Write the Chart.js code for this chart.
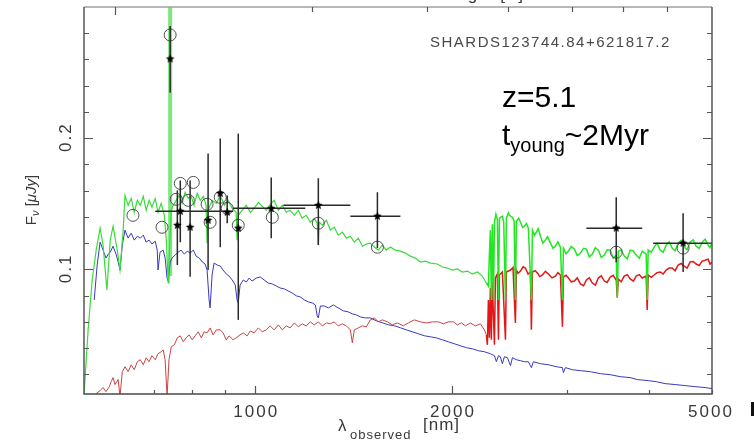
<!DOCTYPE html>
<html>
<head>
<meta charset="utf-8">
<script src="https://cdn.jsdelivr.net/npm/chart.js@4.4.1/dist/chart.umd.min.js"></script>
<style>
  html, body { margin: 0; padding: 0; background: #fff; }
  #wrap { width: 754px; height: 442px; }
</style>
</head>
<body>
<div id="wrap"><canvas id="sed" width="754" height="442"></canvas></div>
<script>
// ---- SED of SHARDS123744.84+621817.2 : wavelength [nm], flux [uJy] ----

// Total model (young + old populations)
const totalSpectrum = [
  [547,0.004],[555,0.0539],[563,0.0919],[571,0.1147],[579,0.1314],[585,0.1185],[593,0.0843],[600,0.1223],
  [606,0.1329],[615,0.1147],[621,0.0995],[628,0.1299],[632,0.1564],[639,0.1488],[646,0.1541],[653,0.1435],
  [660,0.1526],[667,0.1488],[674,0.1557],[681,0.1450],[688,0.1526],[695,0.1473],[703,0.1541],[710,0.1435],
  [718,0.1503],[726,0.1412],[731,0.1223],[736,0.0896],[738,0.1071],[744,0.1450],[749,0.1488],[757,0.1526],
  [765,0.1564],[773,0.1503],[781,0.1587],[790,0.1541],[798,0.1557],[806,0.1488],[815,0.1579],[824,0.1526],
  [833,0.1557],[841,0.1488],[844,0.1200],[847,0.1450],[859,0.1526],[872,0.1503],[884,0.1564],[897,0.1488],
  [909,0.1526],[922,0.1465],[935,0.1435],[938,0.1223],[942,0.1412],[955,0.1450],[969,0.1488],[983,0.1435],
  [996,0.1465],[1011,0.1511],[1025,0.1481],[1040,0.1450],[1054,0.1496],[1069,0.1526],[1085,0.1450],[1100,0.1488],
  [1116,0.1435],[1131,0.1450],[1148,0.1412],[1164,0.1450],[1180,0.1390],[1197,0.1412],[1214,0.1359],[1231,0.1390],
  [1244,0.1352],[1249,0.1185],[1253,0.1359],[1267,0.1337],[1285,0.1375],[1303,0.1299],[1321,0.1321],[1340,0.1261],
  [1359,0.1284],[1379,0.1238],[1398,0.1253],[1418,0.1208],[1438,0.1238],[1459,0.1177],[1479,0.1193],[1500,0.1200],
  [1522,0.1170],[1543,0.1147],[1565,0.1185],[1587,0.1147],[1610,0.1170],[1638,0.1147],[1668,0.1139],[1697,0.1124],
  [1727,0.1101],[1758,0.1086],[1789,0.1056],[1821,0.1063],[1854,0.1048],[1900,0.1041],[1934,0.1018],[1968,0.1010],
  [2003,0.0995],[2039,0.1003],[2075,0.0980],[2112,0.0987],[2149,0.0965],[2188,0.0980],[2226,0.0949],[2258,0.0896],
  [2274,0.0873],[2282,0.1109],[2290,0.1299],[2298,0.0767],[2306,0.1344],[2315,0.0767],[2323,0.1359],[2335,0.1420],
  [2347,0.1382],[2356,0.0767],[2364,0.1390],[2389,0.1405],[2400,0.1360],[2415,0.0767],[2423,0.1390],[2440,0.1430],
  [2449,0.1412],[2475,0.1397],[2490,0.1370],[2501,0.0767],[2510,0.1367],[2530,0.1390],[2546,0.1359],[2565,0.1320],
  [2582,0.1329],[2600,0.1350],[2618,0.1314],[2646,0.0767],[2656,0.1299],[2675,0.1260],[2693,0.1284],[2710,0.1310],
  [2732,0.1253],[2755,0.1200],[2780,0.1223],[2800,0.1250],[2830,0.1200],[2855,0.1160],[2880,0.1177],[2905,0.1210],
  [2931,0.1170],[2952,0.0767],[2962,0.1162],[2990,0.1120],[3015,0.1139],[3045,0.1175],[3079,0.1154],[3110,0.1105],
  [3145,0.1124],[3180,0.1160],[3212,0.1154],[3245,0.1095],[3280,0.1116],[3315,0.1165],[3350,0.1147],[3385,0.1090],
  [3421,0.1109],[3455,0.1150],[3494,0.1147],[3530,0.1085],[3568,0.1109],[3581,0.0782],[3594,0.1139],[3630,0.1150],
  [3670,0.1101],[3710,0.1080],[3748,0.1147],[3790,0.1140],[3828,0.1109],[3870,0.1085],[3910,0.1139],[3965,0.1116],
  [3979,0.0767],[3993,0.1147],[4035,0.1130],[4078,0.1170],[4120,0.1200],[4166,0.1147],[4210,0.1130],[4255,0.1185],
  [4300,0.1210],[4345,0.1162],[4390,0.1140],[4438,0.1200],[4485,0.1220],[4532,0.1170],[4580,0.1150],[4629,0.1208],
  [4680,0.1225],[4728,0.1177],[4780,0.1160],[4829,0.1208],[4880,0.1230],[4932,0.1185],[4965,0.1165],[5002,0.1208]
];

// Old stellar population
const oldSpectrum = [
  [563,0.002],[571,0.0053],[579,0.0076],[585,0.0099],[591,0.0068],[598,0.0106],[602,0.0144],[606,0.0175],
  [610,0.0122],[617,0.0160],[621,0.003],[626,0.0220],[632,0.0258],[639,0.0220],[646,0.0273],[653,0.0235],
  [660,0.0296],[667,0.0311],[674,0.0273],[681,0.0326],[688,0.0296],[695,0.0342],[703,0.0311],[710,0.0357],
  [718,0.0372],[723,0.0387],[728,0.0311],[733,0.003],[738,0.0311],[744,0.0410],[752,0.0425],[760,0.0478],
  [768,0.0493],[776,0.0448],[784,0.0478],[792,0.0501],[801,0.0463],[809,0.0493],[818,0.0524],[827,0.0478],
  [835,0.0524],[844,0.0516],[853,0.0554],[862,0.0501],[872,0.0539],[884,0.0539],[893,0.0516],[903,0.0463],
  [912,0.0493],[925,0.0463],[935,0.0478],[948,0.0501],[959,0.0516],[972,0.0493],[983,0.0531],[996,0.0516],
  [1011,0.0554],[1025,0.0524],[1040,0.0539],[1054,0.0569],[1069,0.0539],[1085,0.0577],[1100,0.0539],[1116,0.0569],
  [1131,0.0554],[1148,0.0592],[1164,0.0562],[1180,0.0585],[1197,0.0569],[1214,0.0600],[1231,0.0577],[1249,0.0600],
  [1267,0.0569],[1285,0.0592],[1303,0.0585],[1321,0.0600],[1340,0.0569],[1359,0.0585],[1379,0.0569],[1398,0.0539],
  [1408,0.0440],[1418,0.0539],[1438,0.0554],[1459,0.0569],[1479,0.0562],[1500,0.0615],[1522,0.0630],[1543,0.0600],
  [1565,0.0615],[1593,0.0600],[1621,0.0577],[1650,0.0592],[1685,0.0569],[1715,0.0592],[1752,0.0615],[1789,0.0600],
  [1828,0.0592],[1867,0.0600],[1907,0.0600],[1941,0.0585],[1975,0.0600],[2010,0.0600],[2039,0.0577],[2068,0.0592],
  [2097,0.0569],[2134,0.0592],[2172,0.0569],[2211,0.0585],[2242,0.0539],[2258,0.0501],[2266,0.0425],[2274,0.0767],
  [2282,0.0478],[2290,0.0858],[2298,0.0463],[2306,0.0904],[2323,0.0425],[2331,0.0934],[2347,0.0965],[2356,0.0463],
  [2364,0.0957],[2389,0.0980],[2415,0.0463],[2423,0.0980],[2458,0.0995],[2480,0.1015],[2501,0.0592],[2510,0.0995],
  [2525,0.0970],[2546,0.0987],[2570,0.1020],[2591,0.1010],[2615,0.0965],[2637,0.0980],[2646,0.0539],[2656,0.0980],
  [2680,0.0990],[2703,0.0972],[2725,0.0945],[2751,0.0957],[2780,0.0985],[2810,0.0965],[2845,0.0935],[2880,0.0949],
  [2905,0.0975],[2931,0.0957],[2952,0.0562],[2962,0.0942],[2990,0.0955],[3015,0.0934],[3045,0.0905],[3079,0.0911],
  [3110,0.0935],[3145,0.0889],[3180,0.0875],[3212,0.0919],[3245,0.0935],[3280,0.0896],[3315,0.0880],[3350,0.0934],
  [3385,0.0950],[3421,0.0911],[3455,0.0900],[3494,0.0942],[3530,0.0955],[3568,0.0919],[3581,0.0790],[3594,0.0927],
  [3630,0.0905],[3670,0.0949],[3710,0.0960],[3748,0.0927],[3790,0.0910],[3828,0.0949],[3870,0.0960],[3910,0.0934],
  [3965,0.0949],[3979,0.0691],[3993,0.0957],[4035,0.0940],[4078,0.0957],[4120,0.0975],[4166,0.0980],[4210,0.0965],
  [4255,0.0995],[4300,0.1010],[4345,0.1010],[4390,0.0990],[4438,0.1033],[4485,0.1045],[4532,0.1025],[4580,0.1010],
  [4629,0.1056],[4680,0.1060],[4728,0.1041],[4780,0.1030],[4829,0.1063],[4880,0.1070],[4932,0.1078],[4965,0.1040],
  [5002,0.1056]
];

// Young stellar population
const youngSpectrum = [
  [567,0.0767],[573,0.1033],[579,0.1208],[585,0.1147],[591,0.1086],[596,0.1116],[600,0.1131],[606,0.1177],
  [613,0.1109],[617,0.1056],[621,0.0995],[626,0.1185],[632,0.1299],[639,0.1238],[646,0.1276],[653,0.1223],
  [660,0.1253],[667,0.1238],[674,0.1261],[681,0.1208],[688,0.1223],[695,0.1193],[703,0.1215],[708,0.1147],
  [710,0.0995],[715,0.1131],[723,0.1147],[728,0.1086],[733,0.0934],[736,0.0911],[741,0.1056],[746,0.1086],
  [754,0.1109],[762,0.1131],[770,0.1147],[779,0.1116],[787,0.1139],[795,0.1124],[804,0.1147],[812,0.1101],
  [821,0.1086],[830,0.1056],[838,0.1041],[844,0.0995],[850,0.0767],[853,0.0706],[859,0.0957],[865,0.1048],
  [875,0.1033],[884,0.1025],[893,0.0995],[903,0.0965],[912,0.0949],[922,0.0919],[932,0.0881],[938,0.0767],
  [942,0.0744],[948,0.0881],[959,0.0919],[969,0.0904],[979,0.0934],[989,0.0911],[1004,0.0934],[1018,0.0942],
  [1032,0.0919],[1047,0.0896],[1062,0.0889],[1077,0.0873],[1092,0.0858],[1108,0.0851],[1123,0.0836],[1139,0.0820],
  [1156,0.0798],[1172,0.0790],[1189,0.0767],[1206,0.0752],[1223,0.0744],[1236,0.0729],[1244,0.0646],[1249,0.0630],
  [1258,0.0721],[1276,0.0721],[1294,0.0706],[1317,0.0729],[1340,0.0706],[1364,0.0684],[1388,0.0676],[1408,0.0661],
  [1428,0.0653],[1448,0.0638],[1474,0.0630],[1500,0.0630],[1532,0.0608],[1565,0.0593],[1599,0.0577],[1633,0.0570],
  [1668,0.0555],[1703,0.0539],[1740,0.0524],[1777,0.0509],[1815,0.0494],[1854,0.0486],[1893,0.0478],[1934,0.0463],
  [1975,0.0448],[2017,0.0433],[2060,0.0418],[2104,0.0403],[2149,0.0395],[2195,0.0380],[2242,0.0372],[2290,0.0357],
  [2323,0.0342],[2339,0.0296],[2356,0.0342],[2372,0.0334],[2389,0.0281],[2406,0.0334],[2432,0.0327],[2458,0.0266],
  [2475,0.0327],[2510,0.0311],[2546,0.0304],[2582,0.0296],[2618,0.0296],[2646,0.0251],[2665,0.0296],[2732,0.0281],
  [2810,0.0273],[2890,0.0258],[2952,0.0251],[2962,0.0213],[2983,0.0251],[3057,0.0235],[3145,0.0228],[3257,0.0220],
  [3374,0.0205],[3494,0.0197],[3619,0.0182],[3748,0.0175],[3842,0.0160],[3993,0.0152],[4107,0.0144],[4240,0.0129],
  [4391,0.0122],[4548,0.0114],[4711,0.0106],[4880,0.0099],[5002,0.0091]
];

// Lyman-alpha emission line of the total model
const lymanAlphaLine = [[741, 0.095], [741, 0.32]];

// Observed photometry with uncertainties (filter width where measured)
const obsWave      = [741, 768, 760, 795, 847, 884, 906, 942, 1058, 1249, 1538, 3568, 4516];
const obsFlux      = [0.2604, 0.1443, 0.1336, 0.1321, 0.1374, 0.1579, 0.1435, 0.1314, 0.1465, 0.1488, 0.1405, 0.1314, 0.1200];
const obsFluxLow   = [0.2346, 0.1207, 0.1033, 0.0943, 0.0995, 0.1169, 0.1352, 0.0615, 0.1238, 0.1185, 0.1162, 0.1055, 0.0980];
const obsFluxHigh  = [0.2855, 0.1678, 0.1602, 0.1678, 0.1883, 0.1997, 0.1564, 0.2035, 0.1701, 0.1694, 0.1587, 0.1549, 0.1427];
const obsWaveLow   = [null, 703, null, null, null, null, null, null, 925, 1104, 1398, 3212, 4064];
const obsWaveHigh  = [null, 925, null, null, null, null, null, null, 1193, 1398, 1668, 3910, 5002];

// Synthetic photometry of the best-fit model
const modelWave = [741, 650, 720, 768, 804, 757, 790, 844, 853, 884, 906, 942, 1062, 1249, 1538, 3568, 4516];
const modelFlux = [0.2787, 0.1412, 0.1321, 0.1655, 0.1663, 0.1534, 0.1526, 0.1496, 0.1359, 0.1549, 0.1465, 0.1336, 0.1397, 0.1352, 0.1169, 0.1131, 0.1162];

// Axis ticks
const xTickValues   = [700, 800, 900, 1000, 2000, 3000, 4000, 5000];
const xTickLabels   = ['1000', '2000', '5000'];
const yTickValues   = [0.02, 0.04, 0.06, 0.08, 0.10, 0.12, 0.14, 0.16, 0.18, 0.20, 0.22, 0.24, 0.26, 0.28];
const yTickLabels   = ['0.1', '0.2'];
const restTicksAngstrom = [1000, 2000, 3000, 4000, 5000, 6000, 7000];
const redshift = 5.1;
const breakWave = 2250;

const FONT = '"Liberation Sans", Arial, Helvetica, sans-serif';

function toXY(pairs) {
  return pairs.slice().sort((a, b) => a[0] - b[0]).map(p => ({ x: p[0], y: p[1] }));
}

function starGlyph(r) {
  const c = document.createElement('canvas');
  const s = Math.ceil(r * 2 + 2);
  c.width = s; c.height = s;
  const g = c.getContext('2d');
  g.fillStyle = '#000';
  g.beginPath();
  for (let i = 0; i < 10; i++) {
    const a = -Math.PI / 2 + i * Math.PI / 5;
    const rr = i % 2 ? r * 0.45 : r;
    g.lineTo(s / 2 + rr * Math.cos(a), s / 2 + rr * Math.sin(a));
  }
  g.closePath();
  g.fill();
  return c;
}

function drawRuns(ctx, runs, x, y, align) {
  // runs: [text, font, baselineShift]
  let total = 0;
  runs.forEach(r => { ctx.font = r[1]; total += ctx.measureText(r[0]).width; });
  let cx = align === 'center' ? x - total / 2 : (align === 'right' ? x - total : x);
  ctx.textAlign = 'left';
  runs.forEach(r => {
    ctx.font = r[1];
    ctx.fillText(r[0], cx, y + (r[2] || 0));
    cx += ctx.measureText(r[0]).width;
  });
}

const obsPoints = obsWave.map((w, i) => ({ x: w, y: obsFlux[i] }));
const modelPoints = modelWave.map((w, i) => ({ x: w, y: modelFlux[i] }));

const errorBars = {
  id: 'errorBars',
  beforeDatasetDraw(chart, args) {
    if (args.index !== 0) return;
    const { ctx, scales: { x, y } } = chart;
    ctx.save();
    ctx.strokeStyle = '#2a2a2a';
    ctx.lineWidth = 1.5;
    obsWave.forEach((w, i) => {
      const px = x.getPixelForValue(w);
      const py = y.getPixelForValue(obsFlux[i]);
      ctx.beginPath();
      ctx.moveTo(px, y.getPixelForValue(obsFluxLow[i]));
      ctx.lineTo(px, y.getPixelForValue(obsFluxHigh[i]));
      if (obsWaveLow[i] !== null) {
        ctx.moveTo(x.getPixelForValue(obsWaveLow[i]), py);
        ctx.lineTo(x.getPixelForValue(obsWaveHigh[i]), py);
      }
      ctx.stroke();
    });
    ctx.restore();
  }
};

const frameAndLabels = {
  id: 'frameAndLabels',
  afterDraw(chart) {
    const { ctx, chartArea: a, scales: { x, y } } = chart;
    ctx.save();
    // frame
    ctx.lineWidth = 1.4;
    ctx.strokeStyle = '#a0a0a0';
    ctx.beginPath(); ctx.moveTo(a.left, a.top); ctx.lineTo(a.right, a.top); ctx.stroke();
    ctx.strokeStyle = '#4a4a4a';
    ctx.beginPath();
    ctx.moveTo(a.left, a.top); ctx.lineTo(a.left, a.bottom); ctx.lineTo(a.right, a.bottom); ctx.lineTo(a.right, a.top);
    ctx.stroke();

    // inward ticks
    ctx.lineWidth = 1.2;
    ctx.strokeStyle = '#555';
    yTickValues.forEach(v => {
      const py = Math.round(y.getPixelForValue(v)) + 0.5;
      const major = Math.abs(v - 0.1) < 1e-6 || Math.abs(v - 0.2) < 1e-6;
      const len = major ? 9 : 5;
      ctx.beginPath();
      ctx.moveTo(a.left, py); ctx.lineTo(a.left + len, py);
      ctx.moveTo(a.right, py); ctx.lineTo(a.right - len, py);
      ctx.stroke();
    });
    xTickValues.forEach(v => {
      const px = Math.round(x.getPixelForValue(v)) + 0.5;
      const len = (v === 1000 || v === 2000) ? 8 : 4;
      ctx.beginPath(); ctx.moveTo(px, a.bottom); ctx.lineTo(px, a.bottom - len); ctx.stroke();
    });
    restTicksAngstrom.forEach(v => {
      const px = Math.round(x.getPixelForValue(v / 10 * (1 + redshift))) + 0.5;
      const len = v === 1000 ? 8 : 5;
      ctx.beginPath(); ctx.moveTo(px, a.top); ctx.lineTo(px, a.top + len); ctx.stroke();
    });

    // tick labels
    ctx.fillStyle = '#3a3a3a';
    ctx.textBaseline = 'alphabetic';
    ctx.letterSpacing = '2px';
    ctx.font = '17px ' + FONT;
    ctx.textAlign = 'center';
    xTickLabels.forEach(t => {
      const v = Number(t);
      let px = x.getPixelForValue(v);
      if (v === 5000) px -= 2;
      ctx.fillText(t, px + 1, 417);
    });
    yTickLabels.forEach(t => {
      const py = y.getPixelForValue(Number(t));
      ctx.save();
      ctx.translate(71, py);
      ctx.rotate(-Math.PI / 2);
      ctx.fillText(t, 1, 0);
      ctx.restore();
    });
    ctx.letterSpacing = '0px';

    // axis titles
    ctx.fillStyle = '#3a3a3a';
    ctx.save();
    ctx.translate(36, 200);
    ctx.rotate(-Math.PI / 2);
    drawRuns(ctx, [
      ['F', '15px ' + FONT, 0],
      ['\u03bd', 'italic 11px ' + FONT, 3],
      [' [', '15px ' + FONT, 0],
      ['\u03bcJy', 'italic 15px ' + FONT, 0],
      [']', '15px ' + FONT, 0]
    ], 0, 0, 'center');
    ctx.restore();

    ctx.letterSpacing = '1px';
    ctx.textAlign = 'left';
    ctx.font = '17px ' + FONT;
    ctx.fillText('\u03bb', 338, 431);
    ctx.font = '13px ' + FONT;
    ctx.fillText('observed', 350, 439);
    ctx.font = '17px ' + FONT;
    ctx.fillText('[nm]', 423, 430);

    // top axis title (rest-frame scale), mostly above the canvas
    ctx.font = '17px ' + FONT;
    ctx.textAlign = 'right';
    ctx.fillText('rest-frame wavelength [\u00c5]', 524, -0.5);

    // stray label edge at the right border
    ctx.fillStyle = '#111';
    ctx.fillRect(751, 402, 3, 14);

    // object name
    ctx.letterSpacing = '1.5px';
    ctx.fillStyle = '#4a4a4a';
    ctx.font = '15px ' + FONT;
    ctx.textAlign = 'left';
    ctx.fillText('SHARDS123744.84+621817.2', 430, 47);
    ctx.letterSpacing = '0px';

    // fit annotation
    ctx.fillStyle = '#000';
    ctx.font = '30px ' + FONT;
    ctx.fillText('z=5.1', 502, 107);
    drawRuns(ctx, [
      ['t', '30px ' + FONT, 0],
      ['young', '20px ' + FONT, 7],
      ['~2Myr', '30px ' + FONT, 0]
    ], 502, 145, 'left');
    ctx.restore();
  }
};

const green = (c) => c.p0.parsed.x > breakWave ? '#22e622' : '#3adc3a';
const red = (c) => c.p0.parsed.x > breakWave ? '#e01818' : '#c84444';

new Chart(document.getElementById('sed'), {
  type: 'line',
  data: {
    datasets: [
      {
        label: 'observed',
        data: obsPoints,
        showLine: false,
        pointStyle: starGlyph(4.5),
        pointRadius: 5,
        order: 0
      },
      {
        label: 'model photometry',
        data: modelPoints,
        showLine: false,
        pointStyle: 'circle',
        pointRadius: 6,
        pointBorderWidth: 1,
        pointBorderColor: '#505050',
        pointBackgroundColor: 'rgba(0,0,0,0)',
        order: 1
      },
      {
        label: 'total',
        data: toXY(totalSpectrum),
        borderColor: '#3adc3a',
        borderWidth: 1.2,
        pointRadius: 0,
        segment: { borderColor: green, borderWidth: c => c.p0.parsed.x > breakWave ? 1.5 : 1.2 },
        order: 2
      },
      {
        label: 'old',
        data: toXY(oldSpectrum),
        borderColor: '#c84444',
        borderWidth: 1,
        pointRadius: 0,
        segment: { borderColor: red, borderWidth: c => c.p0.parsed.x > breakWave ? 1.5 : 1 },
        order: 3
      },
      {
        label: 'young',
        data: toXY(youngSpectrum),
        borderColor: '#3838c4',
        borderWidth: 1,
        pointRadius: 0,
        order: 4
      },
      {
        label: 'Lya',
        data: toXY(lymanAlphaLine),
        borderColor: 'rgba(110,228,110,0.9)',
        borderWidth: 4,
        pointRadius: 0,
        order: 5
      }
    ]
  },
  options: {
    responsive: false,
    animation: false,
    devicePixelRatio: 1,
    parsing: false,
    normalized: true,
    clip: 0,
    layout: { padding: { left: 84, top: 6, right: 42, bottom: 48 } },
    scales: {
      x: { type: 'logarithmic', min: 547, max: 5000, display: false },
      y: { type: 'linear', min: 0.005, max: 0.3, display: false }
    },
    plugins: { legend: { display: false }, tooltip: { enabled: false } },
    elements: { line: { tension: 0 } }
  },
  plugins: [errorBars, frameAndLabels]
});
</script>
</body>
</html>
